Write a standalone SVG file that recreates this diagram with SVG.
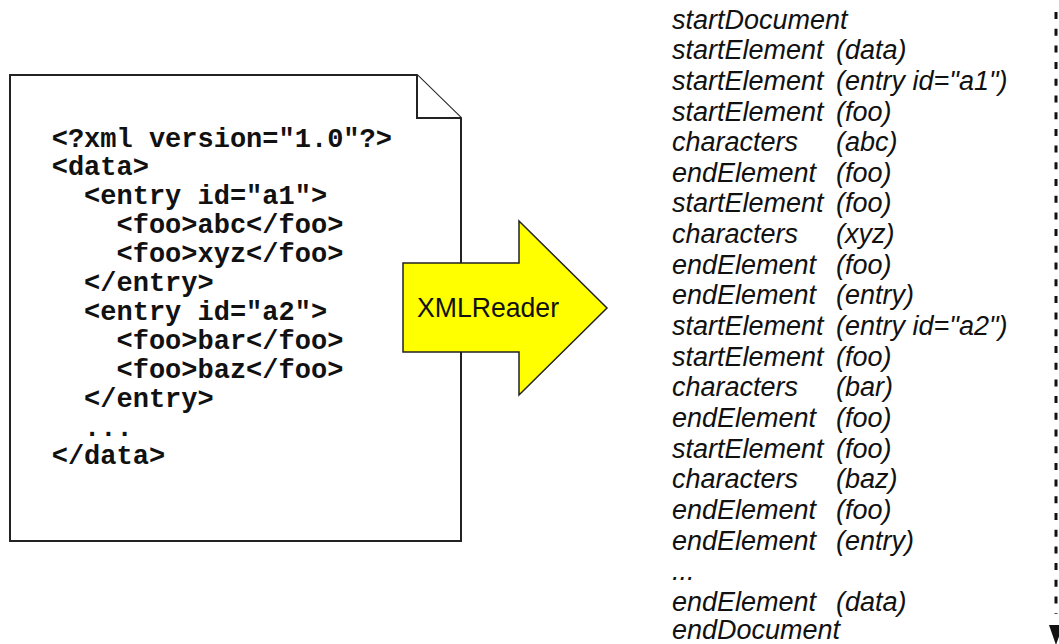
<svg xmlns="http://www.w3.org/2000/svg" width="1059" height="644" viewBox="0 0 1059 644">
<style>
.doc{fill:#fff;stroke:#222;stroke-width:2}
.code{font-family:"Liberation Mono","Courier New",monospace;font-weight:bold;font-size:27px;fill:#111}
.ev{font-family:"Liberation Sans",Arial,sans-serif;font-style:italic;font-size:27px;fill:#111}
.arrow{fill:#ffff00;stroke:#222;stroke-width:1.5}
.lbl{font-family:"Liberation Sans",Arial,sans-serif;font-size:27.5px;fill:#111}
.flow{fill:none;stroke:#111;stroke-width:3;stroke-dasharray:7 9.7}
</style>
<g id="document">
<path class="doc" d="M10,75 H417 L461,118 V541 H10 Z"/>
<path class="doc" d="M417,75 V118 H461" fill="none"/>
<text class="code" x="51.7" y="146.5">&lt;?xml version="1.0"?&gt;</text>
<text class="code" x="51.7" y="175.4">&lt;data&gt;</text>
<text class="code" x="84.1" y="204.3">&lt;entry id="a1"&gt;</text>
<text class="code" x="116.5" y="233.2">&lt;foo&gt;abc&lt;/foo&gt;</text>
<text class="code" x="116.5" y="262.1">&lt;foo&gt;xyz&lt;/foo&gt;</text>
<text class="code" x="84.1" y="291">&lt;/entry&gt;</text>
<text class="code" x="84.1" y="319.9">&lt;entry id="a2"&gt;</text>
<text class="code" x="116.5" y="348.8">&lt;foo&gt;bar&lt;/foo&gt;</text>
<text class="code" x="116.5" y="377.7">&lt;foo&gt;baz&lt;/foo&gt;</text>
<text class="code" x="84.1" y="406.6">&lt;/entry&gt;</text>
<text class="code" x="84.1" y="435.5">...</text>
<text class="code" x="51.7" y="464.4">&lt;/data&gt;</text>
</g>
<g id="xmlreader">
<path class="arrow" d="M403,263 H519 V221 L607,308 L519,395 V352 H403 Z"/>
<text class="lbl" x="417" y="317" textLength="142" lengthAdjust="spacingAndGlyphs">XMLReader</text>
</g>
<g id="events">
<text class="ev" x="672" y="28.5">startDocument</text>
<text class="ev" x="672" y="59.2">startElement</text><text class="ev" x="836" y="59.2">(data)</text>
<text class="ev" x="672" y="89.8">startElement</text><text class="ev" x="836" y="89.8">(entry id="a1")</text>
<text class="ev" x="672" y="120.5">startElement</text><text class="ev" x="836" y="120.5">(foo)</text>
<text class="ev" x="672" y="151.1">characters</text><text class="ev" x="836" y="151.1">(abc)</text>
<text class="ev" x="672" y="181.8">endElement</text><text class="ev" x="836" y="181.8">(foo)</text>
<text class="ev" x="672" y="212.4">startElement</text><text class="ev" x="836" y="212.4">(foo)</text>
<text class="ev" x="672" y="243.1">characters</text><text class="ev" x="836" y="243.1">(xyz)</text>
<text class="ev" x="672" y="273.7">endElement</text><text class="ev" x="836" y="273.7">(foo)</text>
<text class="ev" x="672" y="304.4">endElement</text><text class="ev" x="836" y="304.4">(entry)</text>
<text class="ev" x="672" y="335">startElement</text><text class="ev" x="836" y="335">(entry id="a2")</text>
<text class="ev" x="672" y="365.7">startElement</text><text class="ev" x="836" y="365.7">(foo)</text>
<text class="ev" x="672" y="396.3">characters</text><text class="ev" x="836" y="396.3">(bar)</text>
<text class="ev" x="672" y="427">endElement</text><text class="ev" x="836" y="427">(foo)</text>
<text class="ev" x="672" y="457.6">startElement</text><text class="ev" x="836" y="457.6">(foo)</text>
<text class="ev" x="672" y="488.3">characters</text><text class="ev" x="836" y="488.3">(baz)</text>
<text class="ev" x="672" y="518.9">endElement</text><text class="ev" x="836" y="518.9">(foo)</text>
<text class="ev" x="672" y="549.6">endElement</text><text class="ev" x="836" y="549.6">(entry)</text>
<text class="ev" x="672" y="580.2">...</text>
<text class="ev" x="672" y="610.9">endElement</text><text class="ev" x="836" y="610.9">(data)</text>
<text class="ev" x="672" y="638.5">endDocument</text>
</g>
<g id="connectors">
<line class="flow" x1="1056" y1="12" x2="1056" y2="614"/>
<path d="M1049,625 L1063,625 L1056,645 Z" fill="#111"/>
</g>
</svg>
